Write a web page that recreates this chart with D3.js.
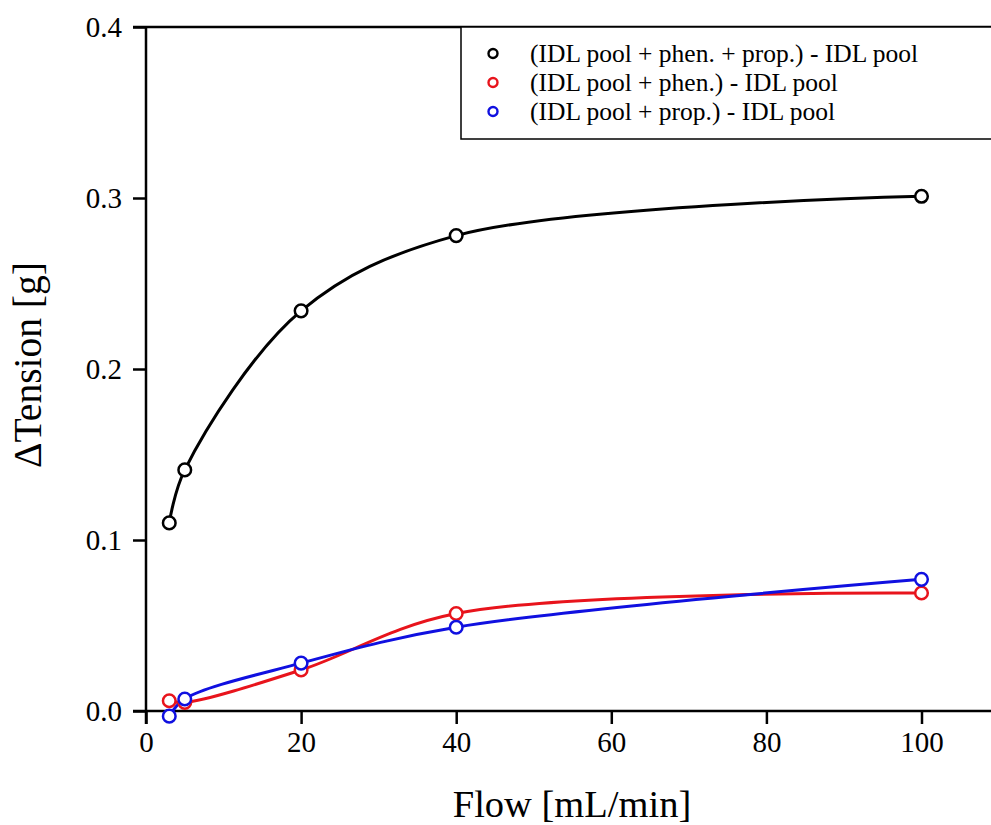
<!DOCTYPE html>
<html>
<head>
<meta charset="utf-8">
<script src="https://cdn.jsdelivr.net/npm/d3@7"></script>
<style>
  body { margin: 0; background: #fff; }
  svg text { font-family: "Liberation Serif", "Times New Roman", Tinos, serif; fill: #000; }
</style>
</head>
<body>
<svg id="chart" width="991" height="825"></svg>
<script>
// data
const flow = [3, 5, 20, 40, 100];
const both = [0.110, 0.141, 0.234, 0.278, 0.301];
const phen = [0.006, 0.005, 0.024, 0.057, 0.069];
const prop = [-0.003, 0.007, 0.028, 0.049, 0.077];
const xTicks = [0, 20, 40, 60, 80, 100];
const yTicks = [0.0, 0.1, 0.2, 0.3, 0.4];
const seriesNames = [
  "(IDL pool + phen. + prop.) - IDL pool",
  "(IDL pool + phen.) - IDL pool",
  "(IDL pool + prop.) - IDL pool"
];
const seriesColors = ["#000000", "#e8141c", "#1010e0"];

const series = [both, phen, prop].map((vals, i) => ({
  name: seriesNames[i],
  color: seriesColors[i],
  values: vals.map((v, j) => ({ flow: flow[j], tension: v }))
}));

var svg = d3.select("#chart"),
    margin = { top: 27, left: 146, bottom: 114 },
    height = 825 - margin.top - margin.bottom,
    g = svg.append("g")
      .attr("transform", "translate(" + margin.left + "," + margin.top + ")");

var x = d3.scaleLinear().domain([0, 110]).range([0, 7.755 * 110]);
var y = d3.scaleLinear().domain([0, 0.4]).range([height, 0]);

// axes
var xAxis = g.append("g")
    .attr("transform", "translate(0," + height + ")")
    .call(d3.axisBottom(x).tickValues(xTicks).tickFormat(d3.format("d"))
      .tickSizeInner(13).tickSizeOuter(0).tickPadding(7));

var yAxis = g.append("g")
    .call(d3.axisLeft(y).tickValues(yTicks).tickFormat(d3.format(".1f"))
      .tickSizeInner(13).tickSizeOuter(0).tickPadding(11));

[xAxis, yAxis].forEach(a => {
  a.attr("font-family", null).attr("font-size", null);
  a.selectAll("path, line").attr("stroke", "#000").attr("stroke-width", 2.5);
  a.selectAll("text").attr("fill", "#000").style("font-size", "29px");
});
xAxis.select(".domain").attr("d", "M-13,0H" + (991 - margin.left));
yAxis.select(".domain").attr("d", "M0," + (height + 13) + "V0");

// top frame line
g.append("line")
    .attr("x1", -13).attr("x2", 991 - margin.left)
    .attr("y1", y(0.4)).attr("y2", y(0.4))
    .attr("stroke", "#000").attr("stroke-width", 2.5);

// axis titles
svg.append("text")
    .attr("x", 572)
    .attr("y", 817)
    .attr("text-anchor", "middle")
    .style("font-size", "38.5px")
    .text("Flow [mL/min]");

svg.append("text")
    .attr("transform", "translate(41,365) rotate(-90)")
    .attr("text-anchor", "middle")
    .style("font-size", "39.5px")
    .text("\u0394Tension [g]");

// lines + markers
var line = d3.line()
    .x(d => x(d.flow))
    .y(d => y(d.tension))
    .curve(d3.curveCatmullRom.alpha(0.5));

series.forEach(s => {
  g.append("path")
      .datum(s.values)
      .attr("fill", "none")
      .attr("stroke", s.color)
      .attr("stroke-width", 3)
      .attr("d", line);
});

series.forEach(s => {
  g.selectAll(null)
     .data(s.values)
   .enter().append("circle")
     .attr("cx", d => x(d.flow))
     .attr("cy", d => y(d.tension))
     .attr("r", 6.3)
     .attr("fill", "#fff")
     .attr("stroke", s.color)
     .attr("stroke-width", 2.5);
});

// legend
var legend = svg.append("g").attr("transform", "translate(461,27)");
legend.append("rect")
    .attr("x", 0).attr("y", 0)
    .attr("width", 600).attr("height", 112)
    .attr("fill", "#fff")
    .attr("stroke", "#000").attr("stroke-width", 1.5);

series.forEach((s, i) => {
  var row = legend.append("g").attr("transform", "translate(0," + (26.5 + i * 29) + ")");
  row.append("circle")
      .attr("cx", 32).attr("cy", 0).attr("r", 4.5)
      .attr("fill", "#fff").attr("stroke", s.color).attr("stroke-width", 2.4);
  row.append("text")
      .attr("x", 69).attr("y", 0).attr("dy", "0.33em")
      .style("font-size", "25.5px")
      .text(s.name);
});
</script>
</body>
</html>
